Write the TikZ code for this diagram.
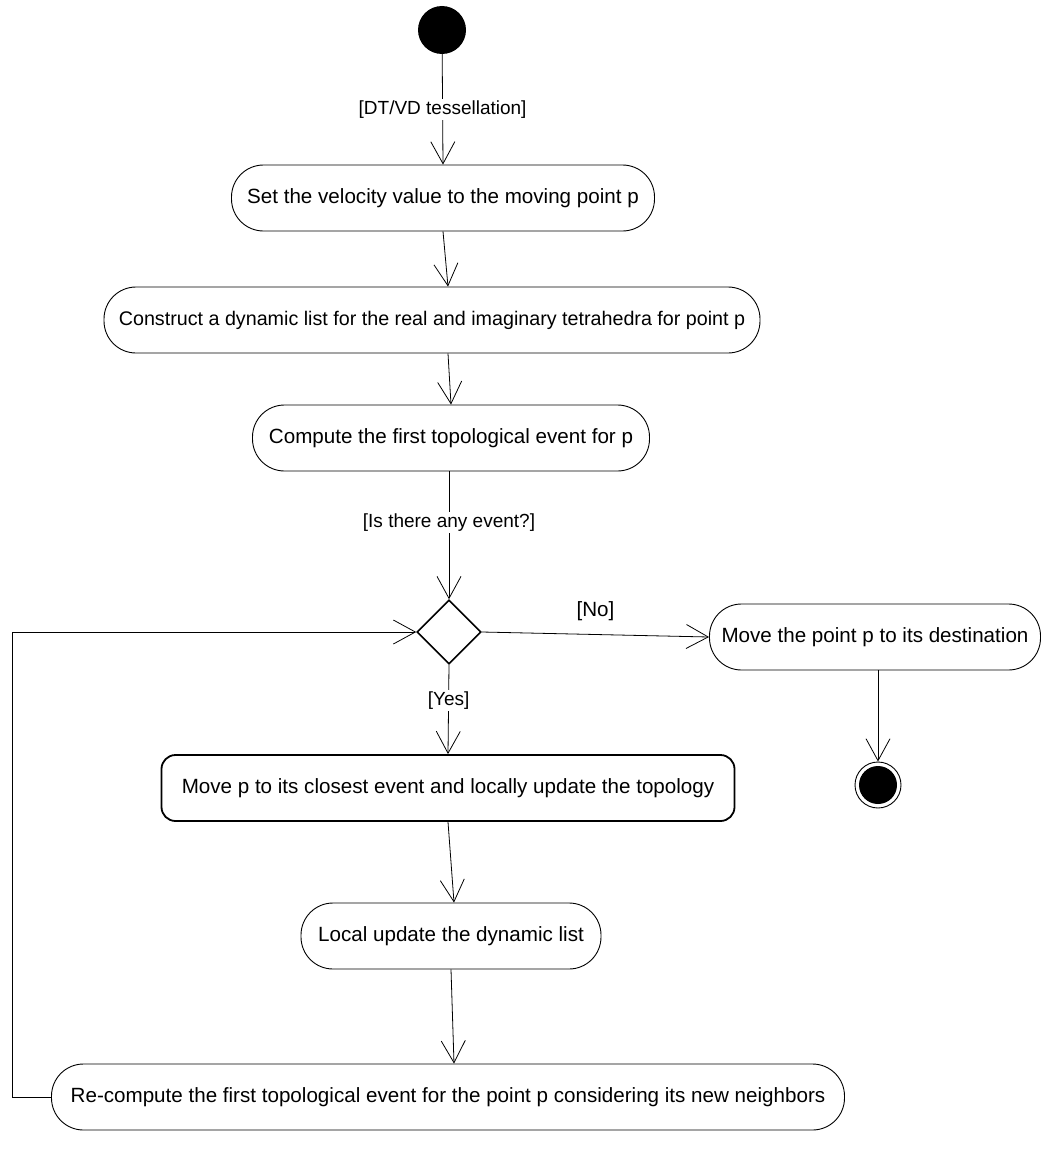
\documentclass[tikz,border=0pt]{standalone}
\usepackage{fontspec}
\setmainfont{Liberation Sans}
\usepackage{tikz}
\usetikzlibrary{positioning,arrows.meta,calc,shapes.geometric}

\begin{document}
\begin{tikzpicture}[x=1pt, y=-1pt,
    every node/.style={font=\fontsize{20.6}{24}\selectfont},
    act/.style={draw, line width=0.9pt, rounded corners=32pt, minimum height=66pt, inner sep=0pt},
    guard/.style={fill=white, inner sep=2pt, font=\fontsize{19}{22}\selectfont},
    flow/.style={line width=0.8pt, -{Straight Barb[length=22pt, width=24pt, line width=0.8pt]}}]

  % Frame
  \useasboundingbox (0, 0) rectangle (1041, 1164);

  % Start and end
  \node[circle, fill, minimum size=48pt, inner sep=0] (start) at (442, 30) {};
  \node[circle, draw, line width=0.9pt, minimum size=46pt, inner sep=0] (stop) at (878, 785) {};
  \node[circle, fill, minimum size=38pt, inner sep=0] (stopin) at (stop) {};

  % Actions
  \node[act, minimum width=423pt] (setv) at (443, 198) {Set the velocity value to the moving point p};
  \node[act, minimum width=656pt, font=\fontsize{19.7}{24}\selectfont] (list) at (432, 320) {Construct a dynamic list for the real and imaginary tetrahedra for point p};
  \node[act, minimum width=397pt] (first) at (451, 438) {Compute the first topological event for p};
  \node[draw, diamond, line width=1.6pt, minimum width=64pt, minimum height=64pt, inner sep=0] (dec) at (449, 632) {};
  \node[act, minimum width=331pt] (dest) at (875, 637) {Move the point p to its destination};
  \node[act, line width=1.8pt, rounded corners=14pt, minimum width=573pt] (move) at (448, 788) {Move p to its closest event and locally update the topology};
  \node[act, minimum width=300pt] (local) at (451, 936) {Local update the dynamic list};
  \node[act, minimum width=793pt] (recomp) at (448, 1097) {Re-compute the first topological event for the point p considering its new neighbors};

  % Flows
  \draw[flow] (start) -- (setv.north) node[guard, pos=0.5] (g1) {[DT/VD tessellation]};
  \draw[flow] (setv.south) -- ($(list.north)+(16, 0)$);
  \draw[flow] ($(list.south)+(16, 0)$) -- (first.north);
  \draw[flow] ($(first.south)+(-2, 0)$) -- (dec.north) node[guard, pos=0.4] (g2) {[Is there any event?]};
  \draw[flow] (dec.east) -- (dest.west) node[above, pos=0.5, yshift=10pt] (g3) {[No]};
  \draw[flow] (dest.south -| stop) -- (stop.north);
  \draw[flow] (dec.south) -- (move.north) node[guard, pos=0.4] (g4) {[Yes]};
  \draw[flow] (move.south) -- ($(local.north)+(3, 0)$);
  \draw[flow] (local.south) -- ($(recomp.north)+(6, 0)$);

  % Loop back
  \coordinate (loopc) at (12, 1097);
  \draw[flow] (recomp.west) -- (loopc) |- (dec.west);

\end{tikzpicture}
\end{document}
